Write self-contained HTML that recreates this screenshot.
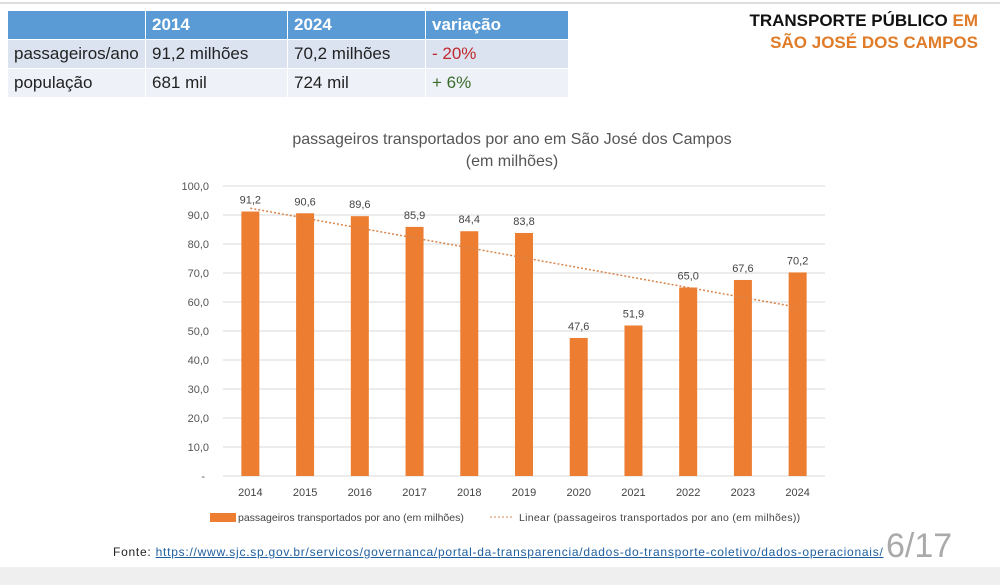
<!DOCTYPE html>
<html><head><meta charset="utf-8"><style>
body{margin:0;width:1000px;height:585px;background:#fff;overflow:hidden;position:relative;font-family:"Liberation Sans",sans-serif}
table{position:absolute;left:7px;top:10px;border-collapse:collapse;font-size:17px;color:#222}
td{height:29px;padding:0 6px;border:1px solid #fff;box-sizing:border-box}
.h td{background:#5b9bd5;color:#fff;font-weight:bold}
.r1 td{background:#dbe3f1}.r2 td{background:#eef1f8}
.title{position:absolute;right:22px;top:10px;text-align:right;font-weight:bold;font-size:17px;line-height:22px}
</style></head><body>
<div style="position:absolute;left:0;top:2px;width:1000px;height:2px;background:#ddd"></div>
<table>
<tr class="h"><td style="width:138px"></td><td style="width:142px">2014</td><td style="width:138px">2024</td><td style="width:143px">variação</td></tr>
<tr class="r1"><td>passageiros/ano</td><td>91,2 milhões</td><td>70,2 milhões</td><td style="color:#c0282d">- 20%</td></tr>
<tr class="r2"><td>população</td><td>681 mil</td><td>724 mil</td><td style="color:#3a6b2a">+ 6%</td></tr>
</table>
<div class="title"><span style="color:#111">TRANSPORTE PÚBLICO </span><span style="color:#e07b28">EM</span><br><span style="color:#e07b28">SÃO JOSÉ DOS CAMPOS</span></div>
<svg id="c" width="1000" height="585" style="position:absolute;left:0;top:0" font-family="Liberation Sans, sans-serif">
<text x="512" y="144" text-anchor="middle" font-size="16" fill="#555">passageiros transportados por ano em São José dos Campos</text>
<text x="512" y="166" text-anchor="middle" font-size="16" fill="#555">(em milhões)</text>
</svg>
<div style="position:absolute;left:0;top:567px;width:1000px;height:18px;background:#efefef"></div>
<div style="position:absolute;left:113px;top:545px;font-size:12px;color:#222;letter-spacing:0.75px;white-space:nowrap">Fonte: <a style="color:#1f5fa0;text-decoration:underline">https://www.sjc.sp.gov.br/servicos/governanca/portal-da-transparencia/dados-do-transporte-coletivo/dados-operacionais/</a></div>
<div style="position:absolute;left:886px;top:527px;font-size:34px;color:#aaa">6/17</div>
<script>
const categories=["2014","2015","2016","2017","2018","2019","2020","2021","2022","2023","2024"];
const values=[91.2,90.6,89.6,85.9,84.4,83.8,47.6,51.9,65.0,67.6,70.2];
const labels=["91,2","90,6","89,6","85,9","84,4","83,8","47,6","51,9","65,0","67,6","70,2"];
const yTicks=[0,10,20,30,40,50,60,70,80,90,100];
const svg=document.getElementById('c');const NS="http://www.w3.org/2000/svg";
const y0=476,y1=186,x0=223,x1=825;
const y=v=>y0-(v/100)*(y0-y1);
const step=(x1-x0)/categories.length;
const x=i=>x0+step*(i+0.5);
function mk(t,a,txt){const e=document.createElementNS(NS,t);for(const k in a)e.setAttribute(k,a[k]);if(txt!=null)e.textContent=txt;svg.appendChild(e);return e;}
yTicks.forEach(t=>{
 if(t>0){const l=mk('line',{x1:x0,x2:x1,y1:y(t),y2:y(t),stroke:'#d9d9d9'});
 
 }
 const tx=mk('text',{x:t===0?205:209,y:y(t)+4,'text-anchor':'end','font-size':11,fill:'#555'},t===0?'-':t.toFixed(1).replace('.',','));
 
 
});
const ax=mk('line',{x1:x0,x2:x1,y1:y0,y2:y0,stroke:'#d9d9d9'});


values.forEach((v,i)=>{
 const b=mk('rect',{x:x(i)-9,y:y(v),width:18,height:y0-y(v),fill:'#ed7d31'});
 
 
 const l=mk('text',{x:x(i),y:y(v)-8,'text-anchor':'middle','font-size':11,fill:'#444'},labels[i]);
 
 
 const c=mk('text',{x:x(i),y:496,'text-anchor':'middle','font-size':11,fill:'#444'},categories[i]);
 
 
});
const n=values.length,mx=(n-1)/2,my=values.reduce((a,b)=>a+b)/n;
let sxy=0,sxx=0;values.forEach((v,i)=>{sxy+=(i-mx)*(v-my);sxx+=(i-mx)**2});
const sl=sxy/sxx,ic=my-sl*mx;
const tr=mk('line',{x1:x(0),y1:y(ic),x2:x(n-1),y2:y(ic+sl*(n-1)),stroke:'#d9844a','stroke-width':1.5,'stroke-dasharray':'2,2'});


const lg1=mk('rect',{x:210,y:513,width:26,height:9,fill:'#ed7d31'});


const lt1=mk('text',{x:238,y:521,'font-size':10.5,fill:'#444'},'passageiros transportados por ano (em milhões)');


const lg2=mk('line',{x1:490,x2:514,y1:517,y2:517,stroke:'#d9844a','stroke-dasharray':'2,2'});


const lt2=mk('text',{x:519,y:521,'font-size':10.5,fill:'#444','letter-spacing':'0.3'},'Linear (passageiros transportados por ano (em milhões))');


</script>
</body></html>
